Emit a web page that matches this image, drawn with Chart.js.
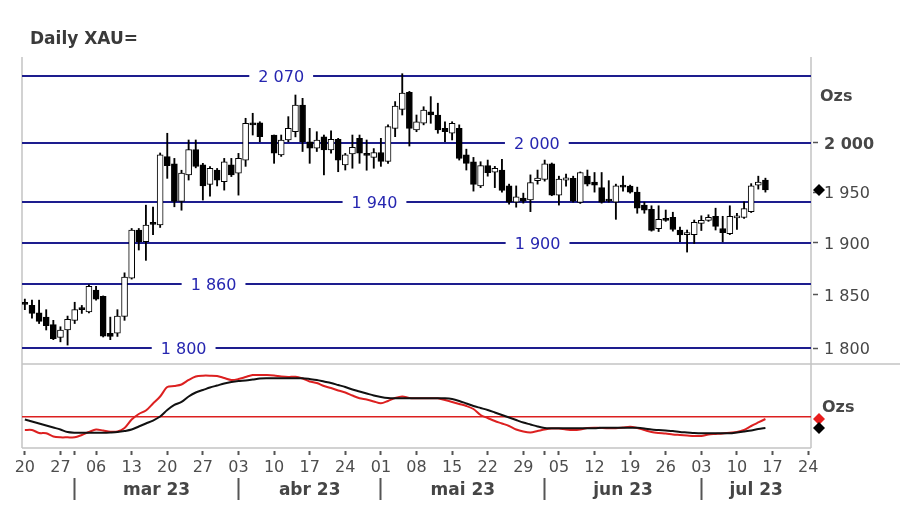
<!DOCTYPE html>
<html><head><meta charset="utf-8">
<script src="https://cdn.jsdelivr.net/npm/chart.js@4.4.0/dist/chart.umd.min.js"></script>
<style>
html,body{margin:0;padding:0;background:#fff;width:900px;height:506px;overflow:hidden}
#c1{position:absolute;left:0;top:0}
#c2{position:absolute;left:0;top:360px}
</style></head><body>
<canvas id="c1" width="900" height="364"></canvas>
<canvas id="c2" width="900" height="146"></canvas>
<script>
// ---------- DATA (trading-day index 0 = Mon 20 Feb 2023; index 34 = Good Friday, no quote) ----------
const titleText = 'Daily XAU=';
const unitText = 'Ozs';
const openP = [1842,1840,1833,1829,1822,1810,1817,1826,1837,1834,
 1854.6,1848.5,1814,1814,1829.7,1865.8,1912.5,1901,1919,1917.4,
 1985.8,1978.4,1940.8,1967.3,1993,1977.4,1957.7,1972.2,1960.4,1977.4,
 1969,1982.3,2020,2020.6,null,2007.9,1987.5,2002.8,2011.3,2038.9,
 2001,1994.3,2006,1992.5,2003.5,1977.4,1988.6,2004.5,1988,1985,
 1990,1981,2014.8,2034.5,2052.2,2013.1,2020,2032,2028.6,2014.8,
 2009.7,2014.8,1987.5,1980.6,1956.2,1976.6,1970,1972.2,1956.2,1940,
 1944,1942.1,1961.5,1962.8,1978.4,1947,1962,1963.8,1939.8,1966,
 1960,1954.5,1942.5,1940,1956,1956,1950,1937,1933,1913.7,
 1922.5,1925,1912.5,1908,1908,1919,1922,1926,1914,1909,
 1924.5,1924.8,1930.6,1957,1962];
const highP = [1846,1845,1845,1836,1826,1820,1830,1843,1840,1859.5,
 1858,1849,1829,1836,1871,1914,1914,1937,1935,1989.5,
 2009.7,1984,1972,2002.8,2002.8,1979,1975.6,1973.8,1984,1984,
 1989.1,2025.2,2030.4,2021.6,null,2007.9,2007.9,2026.9,2049.5,2046,
 2014.8,2011.3,2007.9,2012.3,2004.5,1989.1,2007.9,2007.9,2002.8,1994,
 2004.5,2018.4,2042.6,2072,2053.3,2028.6,2037.2,2047.8,2040.9,2021.6,
 2021.6,2018.4,1993.4,1985,1980.6,1982.3,1975.9,1983,1958,1956.2,
 1949,1967.3,1972.2,1982.3,1979.3,1966,1968,1966,1970.3,1972.2,
 1969.7,1969.7,1961.5,1958,1966,1957,1955,1940,1936.4,1936.4,
 1932.2,1930,1915.5,1912.5,1922.3,1926.5,1927.5,1934,1926,1936.4,
 1929,1940.4,1958.5,1966,1964];
const lowP = [1836,1828,1823,1817,1808,1806,1803,1823,1832.5,1833,
 1845,1810.5,1808,1811,1826,1865,1893,1883,1908,1915,
 1963.8,1935.4,1932,1962.1,1974.4,1942.1,1946,1956.2,1952,1965.6,
 1947,1975.9,2007.9,2001,null,1979,1986,2001,2006,1991,
 1979,1991,1967.3,1989.2,1970.5,1972.2,1974,1979,1972,1974,
 1975.9,1979,2006.2,2028.6,1996.6,2011.3,2018.4,2020,2009.7,2001,
 2002.8,1982.3,1972.2,1951,1954.5,1966,1954.5,1950,1938,1935,
 1939,1930.6,1958,1961,1946.4,1937.1,1956,1940,1938.7,1956.2,
 1950,1939,1940,1923,1951,1949,1929,1929,1911.4,1911,
 1921,1911.4,1901,1891,1899.3,1912,1921,1912.5,1901,1908,
 1913,1924,1929.7,1953,1950];
const closeP = [1841,1832.5,1825,1821,1809,1817,1827,1836,1836,1858,
 1846,1811.3,1811,1830,1867,1912.5,1901,1917.4,1918,1987.5,
 1976.6,1940.8,1969,1993,1975.9,1956.2,1974,1962.1,1980.6,1967.3,
 1984,2020,2018.4,2006.2,null,1989.2,2002.8,2014.8,2038.9,2001,
 1994.3,2002.8,1992.5,2003.5,1982.3,1987.5,1995.3,1989.2,1987,1990,
 1981,2016.6,2038,2051.6,2014.8,2021.6,2033.8,2028.6,2013.1,2011.3,
 2020,1984,1979,1957.7,1976.6,1969.5,1974,1951.8,1940,1945.4,
 1941,1959.5,1964.2,1978.4,1947,1963,1964.3,1940.9,1969.7,1958,
 1957,1940,1941,1956.2,1955,1950,1934,1932,1912.1,1922.9,
 1922,1913,1907.7,1908.5,1920,1922,1925,1916,1910,1926,
 1925.5,1933.6,1956.2,1960,1952.2];
// oscillator panel (unitless, 0-100 panel scale)
const fastLine = [21.4,21.4,17.9,17.5,13.7,12.7,12.7,12.7,15.5,19.0,
 22.0,20.8,19.4,19.6,23.8,33.9,40.5,44.6,53.0,61.3,
 72.6,73.8,75.6,81.0,85.1,86.1,86.1,85.7,83.3,81.0,
 82.1,84.5,86.9,86.9,86.9,86.3,85.1,84.5,84.9,82.7,
 79.2,77.4,73.8,71.4,68.5,66.1,62.5,59.2,57.7,55.4,
 53.2,56.0,59.5,61.3,59.5,59.2,59.2,59.2,59.2,57.1,
 54.8,52.4,50.0,46.4,39.3,35.7,32.1,29.2,26.2,22.0,
 19.6,18.5,20.2,22.0,23.2,23.2,22.0,21.4,22.0,23.8,
 24.2,23.8,23.5,23.5,24.4,25.4,23.8,21.4,19.0,17.9,
 17.3,16.1,15.5,14.9,14.3,14.3,16.1,16.7,17.3,18.2,
 19.0,21.4,26.2,30.4,34.5];
const slowLine = [33.9,31.5,29.2,26.8,24.4,22.0,19.0,18.2,18.2,18.2,
 18.2,18.2,18.5,19.0,20.2,22.0,25.6,29.2,32.7,37.5,
 45.2,51.2,54.8,61.3,66.1,69.0,72.0,74.4,76.8,78.6,
 79.8,80.4,81.5,82.7,83.0,83.0,83.0,83.0,83.0,83.0,
 82.1,81.0,79.2,77.4,75.0,72.6,69.6,67.3,64.9,62.5,
 60.7,59.5,59.2,59.2,59.2,59.2,59.2,59.2,59.2,59.2,
 58.3,56.0,53.0,50.0,47.6,45.2,42.3,39.3,36.3,33.3,
 30.4,28.0,25.6,23.8,23.5,23.5,23.5,23.5,23.5,23.5,
 23.5,24.0,24.0,24.0,24.0,24.0,24.0,23.2,22.0,21.4,
 20.8,20.2,19.0,18.5,17.9,17.5,17.5,17.5,17.5,17.5,
 18.5,19.6,20.8,22.6,23.8];
const signalLevel = 37.3;
const levels = [2070, 2000, 1940, 1900, 1860, 1800];
const priceTicks = [1800, 1850, 1900, 1950, 2000];
const weekLabels = ['20','27','06','13','20','27','03','10','17','24','01','08','15','22','29','05','12','19','26','03','10','17','24'];
const monthStarts = [7, 30, 50, 73, 95];
const monthLabels = ['mar 23','abr 23','mai 23','jun 23','jul 23'];

// ---------- layout / style settings ----------
const X_MIN = -0.4, X_MAX = 110.4;
const Y_MIN = 1785.6, Y_MAX = 2089.8;
const levelLabelAt = [36, 71.9, 49.1, 72, 26.5, 22.3]; // trading-day position of each level label
const FONT = '"DejaVu Sans", Verdana, sans-serif';
const NAVY = '#1d1d8e', NAVY_TXT = '#2626b0', FRAME = '#c4c4c4', TXT = '#474747';
const RED = '#dc2020', BLK = '#111111';

Chart.defaults.font.family = FONT;
Chart.defaults.animation = false;

const fmt = v => String(v).replace(/\B(?=(\d{3})+(?!\d))/g, ' ');
const idx = openP.map((_, i) => i);
const valid = idx.filter(i => openP[i] !== null);
const wickData = valid.map(i => ({x: i, y: [lowP[i], highP[i]]}));
const bodyData = valid.map(i => ({x: i, y: [openP[i], closeP[i]]}));
const bodyFill = valid.map(i => closeP[i] >= openP[i] ? '#ffffff' : '#000000');
const lastValid = valid[valid.length - 1];

function diamond(ctx, cx, cy, r, color) {
  ctx.beginPath();
  ctx.moveTo(cx, cy - r); ctx.lineTo(cx + r, cy); ctx.lineTo(cx, cy + r); ctx.lineTo(cx - r, cy);
  ctx.closePath(); ctx.fillStyle = color; ctx.fill();
}

const mainDecor = {
  id: 'mainDecor',
  beforeDatasetsDraw(chart) {
    const {ctx, chartArea: a, scales: {x, y}} = chart;
    ctx.save();
    ctx.strokeStyle = FRAME; ctx.lineWidth = 1.5;
    ctx.beginPath();
    ctx.moveTo(a.left, a.top); ctx.lineTo(a.left, a.bottom);
    ctx.moveTo(a.right, a.top); ctx.lineTo(a.right, a.bottom);
    ctx.stroke();
    ctx.font = '16px ' + FONT;
    ctx.textAlign = 'center'; ctx.textBaseline = 'middle';
    levels.forEach((lv, k) => {
      const py = Math.round(y.getPixelForValue(lv));
      const px = x.getPixelForValue(levelLabelAt[k]);
      const lab = fmt(lv);
      const tw = ctx.measureText(lab).width;
      ctx.strokeStyle = NAVY; ctx.lineWidth = 2;
      ctx.beginPath();
      ctx.moveTo(a.left, py); ctx.lineTo(px - tw / 2 - 9, py);
      ctx.moveTo(px + tw / 2 + 9, py); ctx.lineTo(a.right, py);
      ctx.stroke();
      ctx.fillStyle = NAVY_TXT;
      ctx.fillText(lab, px, py + 2);
    });
    ctx.restore();
  },
  afterDraw(chart) {
    const {ctx, chartArea: a, scales: {y}} = chart;
    ctx.save();
    ctx.font = 'bold 17px ' + FONT; ctx.fillStyle = '#3a3a3a';
    ctx.textAlign = 'left'; ctx.textBaseline = 'middle';
    ctx.fillText(titleText, 30, 40);
    ctx.font = 'bold 16px ' + FONT; ctx.fillStyle = TXT;
    ctx.fillText(unitText, a.right + 9, 97);
    diamond(ctx, a.right + 8, y.getPixelForValue(closeP[lastValid]), 6, '#000');
    ctx.restore();
  }
};

new Chart(document.getElementById('c1'), {
  type: 'bar',
  data: {
    datasets: [
      {label: 'body', data: bodyData, order: 1, grouped: false, barThickness: 6, minBarLength: 2,
       backgroundColor: bodyFill, borderColor: '#000', borderWidth: 1, borderSkipped: false},
      {label: 'wick', data: wickData, order: 2, grouped: false, barThickness: 1.2,
       backgroundColor: '#000', borderWidth: 0}
    ]
  },
  options: {
    responsive: false,
    layout: {padding: {left: 22, top: 57, right: 0, bottom: 0}},
    plugins: {legend: {display: false}, tooltip: {enabled: false}, title: {display: false}},
    scales: {
      x: {type: 'linear', min: X_MIN, max: X_MAX, display: false, offset: false},
      y: {
        type: 'logarithmic', position: 'right', min: Y_MIN, max: Y_MAX,
        afterBuildTicks: s => { s.ticks = priceTicks.map(v => ({value: v})); },
        afterFit: s => { s.width = 89; s.paddingTop = 0; s.paddingBottom = 0; },
        border: {display: false},
        grid: {drawOnChartArea: false, drawTicks: true, tickLength: 7, tickColor: '#555', tickWidth: 1.5,
               tickBorderDash: [0, 2, 5, 50]},
        ticks: {
          padding: 6, color: TXT, labelOffset: 2,
          callback: v => fmt(v),
          font: c => ({size: 16, weight: (c.tick && c.tick.value === 2000) ? 'bold' : 'normal'})
        }
      }
    }
  },
  plugins: [mainDecor]
});

// ---------- oscillator panel ----------
const weekIdx = weekLabels.map((_, k) => k * 5);
const row1Ticks = Array.from(new Set(weekIdx.concat(monthStarts))).sort((a, b) => a - b);
const monthEnds = monthStarts.slice(1).concat([X_MAX]);
const monthMids = monthStarts.map((m, k) => (m + monthEnds[k]) / 2);

const oscDecor = {
  id: 'oscDecor',
  beforeDatasetsDraw(chart) {
    const {ctx, chartArea: a, scales: {y}} = chart;
    ctx.save();
    ctx.strokeStyle = FRAME; ctx.lineWidth = 1.5;
    ctx.beginPath();
    ctx.moveTo(a.left, a.top); ctx.lineTo(chart.width, a.top);
    ctx.moveTo(a.left, a.top); ctx.lineTo(a.left, a.bottom);
    ctx.moveTo(a.right, a.top); ctx.lineTo(a.right, a.bottom);
    ctx.moveTo(a.left, a.bottom); ctx.lineTo(a.right, a.bottom);
    ctx.stroke();
    const py = y.getPixelForValue(signalLevel);
    ctx.strokeStyle = RED; ctx.lineWidth = 1.5;
    ctx.beginPath(); ctx.moveTo(a.left, py); ctx.lineTo(a.right, py); ctx.stroke();
    ctx.restore();
  },
  afterDraw(chart) {
    const {ctx, chartArea: a, scales: {y}} = chart;
    ctx.save();
    ctx.font = 'bold 16px ' + FONT; ctx.fillStyle = TXT;
    ctx.textAlign = 'left'; ctx.textBaseline = 'middle';
    ctx.fillText(unitText, a.right + 11, 48);
    diamond(ctx, a.right + 8, y.getPixelForValue(fastLine[fastLine.length - 1]), 6, '#e81c1c');
    diamond(ctx, a.right + 8, y.getPixelForValue(slowLine[slowLine.length - 1]), 6, '#000');
    ctx.restore();
  }
};

new Chart(document.getElementById('c2'), {
  type: 'line',
  data: {
    datasets: [
      {label: 'slow', data: idx.map(i => ({x: i, y: slowLine[i]})), borderColor: BLK, borderWidth: 2,
       pointRadius: 0, tension: 0.3, xAxisID: 'x'},
      {label: 'fast', data: idx.map(i => ({x: i, y: fastLine[i]})), borderColor: RED, borderWidth: 2,
       pointRadius: 0, tension: 0.3, xAxisID: 'x'}
    ]
  },
  options: {
    responsive: false,
    layout: {padding: {left: 22, right: 89, top: 4, bottom: 0}},
    plugins: {legend: {display: false}, tooltip: {enabled: false}},
    scales: {
      y: {type: 'linear', min: 0, max: 100, display: false},
      x: {
        type: 'linear', position: 'bottom', min: X_MIN, max: X_MAX, weight: 1,
        afterBuildTicks: s => { s.ticks = row1Ticks.map(v => ({value: v})); },
        afterFit: s => { s.height = 30; },
        border: {display: false},
        grid: {drawOnChartArea: false, drawTicks: true, tickLength: 7, tickColor: '#555', tickWidth: 2,
               tickBorderDash: [0, 3, 4, 50]},
        ticks: {
          autoSkip: false, maxRotation: 0, padding: 3, color: '#4d4d4d', font: {size: 16},
          callback: v => { const k = weekIdx.indexOf(v); return k >= 0 ? weekLabels[k] : ''; }
        }
      },
      x2: {
        type: 'linear', position: 'bottom', min: X_MIN, max: X_MAX, weight: 2,
        afterBuildTicks: s => { s.ticks = monthStarts.map(v => ({value: v})).concat(monthMids.map(v => ({value: v}))).sort((a, b) => a.value - b.value); },
        afterFit: s => { s.height = 28; },
        border: {display: false},
        grid: {drawOnChartArea: false, drawTicks: true, tickLength: 22, tickWidth: 2,
               tickColor: c => (c.tick && monthStarts.indexOf(c.tick.value) >= 0) ? '#555' : 'rgba(0,0,0,0)'},
        ticks: {
          autoSkip: false, maxRotation: 0, padding: -20, color: '#454545', font: {size: 17, weight: 'bold'},
          callback: v => { const k = monthMids.indexOf(v); return k >= 0 ? monthLabels[k] : ''; }
        }
      }
    }
  },
  plugins: [oscDecor]
});
</script></body></html>
